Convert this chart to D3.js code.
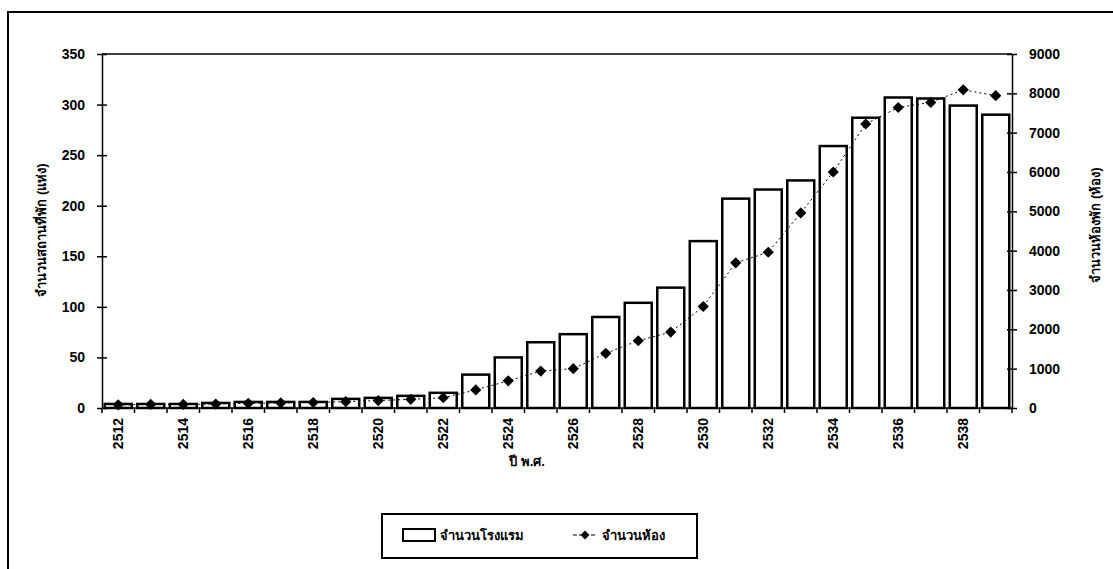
<!DOCTYPE html>
<html>

<head>
  <meta charset="utf-8">
  <title>hotels and rooms</title>
  <script src="https://d3js.org/d3.v7.min.js"></script>
  <style type="text/css">
    body { margin: 0; background: #fff; }
    .axis text { font: bold 14px "Liberation Sans", Arial, sans-serif; fill: #000; }
    .axis path, .axis line { stroke: #000; stroke-width: 1.5; }
    .title { font: bold 13px "Liberation Sans", "DejaVu Sans", sans-serif; fill: #000; }
  </style>
</head>

<body>
  <svg id="chart"></svg>

  <script>
    // years (พ.ศ.)
    var years = [2512, 2513, 2514, 2515, 2516, 2517, 2518, 2519, 2520, 2521,
      2522, 2523, 2524, 2525, 2526, 2527, 2528, 2529, 2530, 2531,
      2532, 2533, 2534, 2535, 2536, 2537, 2538, 2539];
    // จำนวนโรงแรม (left axis)
    var hotels = [4, 4, 4, 5, 6, 6, 6, 9, 10, 12,
      15, 33, 50, 65, 73, 90, 104, 119, 165, 207,
      216, 225, 259, 287, 307, 306, 299, 290];
    // จำนวนห้อง (right axis)
    var rooms = [80, 90, 90, 100, 120, 130, 140, 160, 190, 220,
      260, 460, 690, 940, 1000, 1390, 1710, 1930, 2580, 3690,
      3960, 4960, 6000, 7220, 7640, 7770, 8090, 7940];
    var leftTicks = [0, 50, 100, 150, 200, 250, 300, 350];
    var rightTicks = [0, 1000, 2000, 3000, 4000, 5000, 6000, 7000, 8000, 9000];
    var labelYears = years.filter(function (d) { return d % 2 === 0; });

    var W = 1113, H = 569;
    var plot = { left: 102, right: 1012, top: 54, bottom: 408 };

    var svg = d3.select("#chart").attr("width", W).attr("height", H);

    // outer frame
    svg.append("path")
      .attr("d", "M8," + H + "V12H" + W)
      .attr("fill", "none").attr("stroke", "#000").attr("stroke-width", 2);

    var x = d3.scaleBand()
      .domain(years)
      .range([plot.left, plot.right])
      .paddingInner(0.17)
      .paddingOuter(0.085);

    var yL = d3.scaleLinear().domain([0, 350]).range([plot.bottom, plot.top]);
    var yR = d3.scaleLinear().domain([0, 9000]).range([plot.bottom, plot.top]);

    // top border of plot area
    svg.append("line")
      .attr("x1", plot.left).attr("x2", plot.right)
      .attr("y1", plot.top).attr("y2", plot.top)
      .attr("stroke", "#000").attr("stroke-width", 1.5);

    // bars
    svg.selectAll(".bar")
      .data(years)
      .enter().append("rect")
      .attr("class", "bar")
      .attr("x", function (d) { return x(d); })
      .attr("y", function (d, i) { return yL(hotels[i]); })
      .attr("width", x.bandwidth())
      .attr("height", function (d, i) { return yL(0) - yL(hotels[i]); })
      .attr("fill", "#fff")
      .attr("stroke", "#000")
      .attr("stroke-width", 2.5);

    // rooms line
    var line = d3.line()
      .x(function (d, i) { return x(years[i]) + x.bandwidth() / 2; })
      .y(function (d) { return yR(d); });

    svg.append("path")
      .datum(rooms)
      .attr("d", line)
      .attr("fill", "none")
      .attr("stroke", "#000")
      .attr("stroke-width", 1)
      .attr("stroke-dasharray", "2,3");

    var diamond = d3.symbol().type(d3.symbolDiamond2).size(80);
    svg.selectAll(".pt")
      .data(rooms)
      .enter().append("path")
      .attr("class", "pt")
      .attr("transform", function (d, i) {
        return "translate(" + (x(years[i]) + x.bandwidth() / 2) + "," + yR(d) + ")";
      })
      .attr("d", diamond)
      .attr("fill", "#000");

    // left axis
    var gL = svg.append("g")
      .attr("class", "axis")
      .attr("transform", "translate(" + plot.left + ",0)")
      .call(d3.axisLeft(yL).tickValues(leftTicks).tickSizeInner(5).tickSizeOuter(0).tickPadding(12));
    gL.selectAll(".tick line").attr("x1", 5);

    // right axis
    var gR = svg.append("g")
      .attr("class", "axis")
      .attr("transform", "translate(" + plot.right + ",0)")
      .call(d3.axisRight(yR).tickValues(rightTicks).tickFormat(d3.format("d"))
        .tickSizeInner(5).tickSizeOuter(0).tickPadding(12));
    gR.selectAll(".tick line").attr("x1", -5);

    // bottom axis: tick marks between categories, labels every 2 years
    var gB = svg.append("g")
      .attr("class", "axis")
      .attr("transform", "translate(0," + plot.bottom + ")");
    gB.append("line")
      .attr("x1", plot.left).attr("x2", plot.right)
      .attr("stroke", "#000").attr("stroke-width", 2);
    var step = x.step();
    gB.selectAll(".tk")
      .data(years.concat([years[years.length - 1] + 1]))
      .enter().append("line")
      .attr("class", "tk")
      .attr("x1", function (d, i) { return plot.left + i * step; })
      .attr("x2", function (d, i) { return plot.left + i * step; })
      .attr("y1", 0).attr("y2", 5)
      .attr("stroke", "#000").attr("stroke-width", 1.5);
    gB.selectAll(".lbl")
      .data(labelYears)
      .enter().append("text")
      .attr("class", "lbl")
      .attr("transform", function (d) {
        return "translate(" + (x(d) + x.bandwidth() / 2 + 5) + ",10) rotate(-90)";
      })
      .attr("text-anchor", "end")
      .text(function (d) { return d; });

    // axis titles
    svg.append("text")
      .attr("class", "title")
      .attr("transform", "translate(46,230) rotate(-90)")
      .attr("text-anchor", "middle")
      .text("จำนวนสถานที่พัก (แห่ง)");
    svg.append("text")
      .attr("class", "title")
      .attr("transform", "translate(1100,225) rotate(-90)")
      .attr("text-anchor", "middle")
      .text("จำนวนห้องพัก (ห้อง)");
    svg.append("text")
      .attr("class", "title")
      .attr("x", 527).attr("y", 466)
      .attr("text-anchor", "middle")
      .text("ปี พ.ศ.");

    // legend
    var lg = svg.append("g").attr("transform", "translate(382,514)");
    lg.append("rect")
      .attr("width", 315).attr("height", 44)
      .attr("fill", "#fff").attr("stroke", "#000").attr("stroke-width", 2);
    lg.append("rect")
      .attr("x", 21).attr("y", 15).attr("width", 32).attr("height", 12)
      .attr("fill", "#fff").attr("stroke", "#000").attr("stroke-width", 2);
    lg.append("text")
      .attr("class", "title")
      .attr("x", 58).attr("y", 26)
      .text("จำนวนโรงแรม");
    lg.append("line")
      .attr("x1", 191).attr("x2", 215).attr("y1", 21).attr("y2", 21)
      .attr("stroke", "#000").attr("stroke-width", 1.2).attr("stroke-dasharray", "4,2");
    lg.append("path")
      .attr("transform", "translate(203,21)")
      .attr("d", d3.symbol().type(d3.symbolDiamond2).size(50))
      .attr("fill", "#000");
    lg.append("text")
      .attr("class", "title")
      .attr("x", 220).attr("y", 26)
      .text("จำนวนห้อง");
  </script>
</body>

</html>
